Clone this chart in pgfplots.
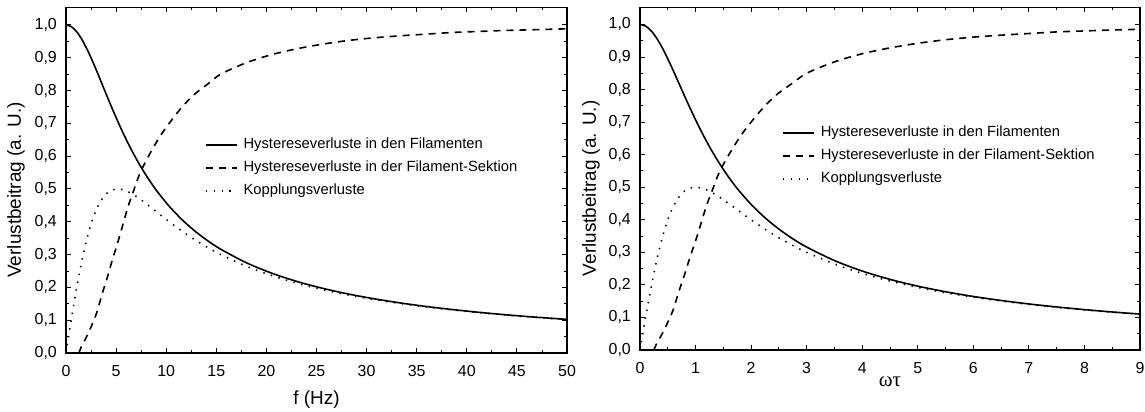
\documentclass[border=0pt]{standalone}
\usepackage{fontspec}
\setmainfont{Liberation Sans}
\newfontfamily\serifgreek{Liberation Serif}
\usepackage{pgfplots}
\usepackage{pgfplotstable}
\pgfplotsset{compat=1.18}

% wt = omega*tau, f = frequency in Hz
% S = Hystereseverluste in den Filamenten, D = Kopplungsverluste
\pgfplotstableread{
wt    f       S      D
0     0       1.0000 0.0000
0.1   0.515   0.9950 0.0990
0.2   1.03    0.9806 0.1923
0.3   1.545   0.9578 0.2752
0.4   2.06    0.9285 0.3448
0.5   2.575   0.8944 0.4000
0.6   3.09    0.8575 0.4412
0.7   3.605   0.8192 0.4698
0.8   4.12    0.7809 0.4878
0.9   4.635   0.7433 0.4972
1.0   5.15    0.7071 0.5000
1.1   5.665   0.6727 0.4977
1.2   6.18    0.6402 0.4918
1.3   6.695   0.6097 0.4833
1.4   7.21    0.5812 0.4730
1.5   7.725   0.5547 0.4615
1.6   8.24    0.5300 0.4494
1.7   8.755   0.5070 0.4370
1.8   9.27    0.4856 0.4245
2.0   10.3    0.4472 0.4000
2.25  11.5875 0.4061 0.3711
2.5   12.875  0.3714 0.3448
2.75  14.1625 0.3417 0.3212
3.0   15.45   0.3162 0.3000
3.5   18.025  0.2747 0.2642
4.0   20.6    0.2425 0.2353
4.5   23.175  0.2169 0.2118
5.0   25.75   0.1961 0.1923
5.5   28.325  0.1789 0.1760
6.0   30.9    0.1644 0.1622
6.5   33.475  0.1521 0.1503
7.0   36.05   0.1414 0.1400
7.5   38.625  0.1322 0.1310
8.0   41.2    0.1240 0.1231
8.5   43.775  0.1168 0.1160
9.0   46.35   0.1104 0.1098
9.71  50.0    0.1024 0.1019
}\lossSD

% H = Hystereseverluste in der Filament-Sektion
\pgfplotstableread{
wt    f       H
0.25  1.2875  0.000
0.30  1.545   0.020
0.40  2.06    0.050
0.50  2.575   0.085
0.60  3.09    0.125
0.70  3.605   0.180
0.80  4.12    0.230
0.90  4.635   0.285
1.00  5.15    0.335
1.10  5.665   0.390
1.20  6.18    0.445
1.30  6.695   0.490
1.40  7.21    0.535
1.50  7.725   0.570
1.60  8.24    0.600
1.80  9.27    0.655
2.00  10.3    0.700
2.25  11.5875 0.750
2.50  12.875  0.790
2.75  14.1625 0.820
3.00  15.45   0.850
3.50  18.025  0.885
4.00  20.6    0.910
4.50  23.175  0.928
5.00  25.75   0.942
5.50  28.325  0.953
6.00  30.9    0.961
6.50  33.475  0.967
7.00  36.05   0.972
7.50  38.625  0.977
8.00  41.2    0.980
8.50  43.775  0.983
9.00  46.35   0.985
9.71  50.0    0.988
}\lossH

\pgfplotsset{
  lossaxis/.style={
    scale only axis,
    xmin=0, ymin=0,
    ytick={0,0.1,0.2,0.3,0.4,0.5,0.6,0.7,0.8,0.9,1.0},
    minor x tick num=1, minor y tick num=1,
    tick align=inside, tick pos=both,
    major tick length=5bp, minor tick length=3bp,
    every tick/.append style={line width=0.9bp, black},
    axis line style={line width=1.1bp},
    /pgf/number format/assume math mode=true,
    yticklabel style={/pgf/number format/use comma,
      /pgf/number format/fixed, /pgf/number format/fixed zerofill,
      /pgf/number format/precision=1},
    ticklabel style={font=\fontsize{16}{16}\selectfont, inner sep=0pt},
    yticklabel style={anchor=east, xshift=-9bp},
    xticklabel style={anchor=north, yshift=-12bp},
    label style={font=\fontsize{19}{19}\selectfont},
    ylabel={Verlustbeitrag (a. U.)},
    legend style={draw=none, fill=none, inner sep=0pt, anchor=north west,
      font=\fontsize{14.8}{14.8}\selectfont, row sep=8bp, column sep=6bp,
      nodes={inner sep=0pt, text height=11bp, text depth=4bp}},
    legend cell align=left,
    legend image code/.code={\draw[##1] (0bp,0bp) -- (31bp,0bp);},
  },
  hfil/.style={black, line width=1.6bp},
  hsek/.style={black, line width=1.6bp, dash pattern=on 7bp off 6bp},
  kopp/.style={black, line width=1.6bp, dash pattern=on 1.4bp off 6.5bp},
}

\begin{document}
\begin{tikzpicture}
% left: frequency
\begin{axis}[lossaxis,
  at={(0bp,0bp)}, width=501bp, height=345.5bp,
  xmax=50, ymax=1.053,
  xtick={0,5,...,50},
  xlabel={f (Hz)},
  xlabel style={at={(axis description cs:0.5,0)}, anchor=center, yshift=-47bp},
  ylabel style={at={(axis description cs:-0.1,0.472)}, anchor=center},
  legend style={at={(axis description cs:0.277,0.624)}},
]
\addplot[hfil, smooth] table[x=f, y=S] {\lossSD};
\addplot[hsek, smooth] table[x=f, y=H] {\lossH};
\addplot[kopp, smooth] table[x=f, y=D] {\lossSD};
\legend{Hystereseverluste in den Filamenten,
        Hystereseverluste in der Filament-Sektion,
        Kopplungsverluste}
\end{axis}
% right: omega tau
\begin{axis}[lossaxis,
  at={(574bp,3bp)}, width=500bp, height=342.5bp,
  xmax=9, ymax=1.052,
  xtick={0,1,...,9},
  xlabel={\serifgreek\fontsize{21}{21}\selectfont ωτ},
  xlabel style={at={(axis description cs:0.5,0)}, anchor=center, yshift=-32bp},
  ylabel style={at={(axis description cs:-0.098,0.472)}, anchor=center},
  legend style={at={(axis description cs:0.284,0.6565)}},
]
\addplot[hfil, smooth] table[x=wt, y=S] {\lossSD};
\addplot[hsek, smooth] table[x=wt, y=H] {\lossH};
\addplot[kopp, smooth] table[x=wt, y=D] {\lossSD};
\legend{Hystereseverluste in den Filamenten,
        Hystereseverluste in der Filament-Sektion,
        Kopplungsverluste}
\end{axis}
\pgfresetboundingbox
\useasboundingbox (-66bp,-59bp) rectangle (1079bp,353bp);
\end{tikzpicture}
\end{document}
